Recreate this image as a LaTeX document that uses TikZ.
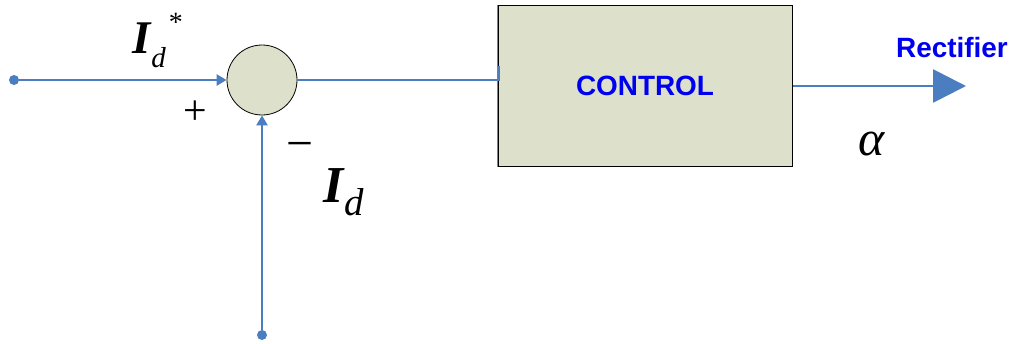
\documentclass[tikz,border=0pt]{standalone}
\usepackage{fontspec}
\setmainfont{Liberation Serif}
\setsansfont{Liberation Sans}
\usetikzlibrary{arrows.meta}
\definecolor{wire}{RGB}{74,126,193}
\definecolor{panel}{RGB}{221,224,203}
\definecolor{labelblue}{RGB}{0,0,240}
\begin{document}
\begin{tikzpicture}[x=1bp,y=-1bp,
  wire/.style={draw=wire,line width=2.8bp},
  tip/.style={-{Triangle[length=10bp,width=11bp]}},
  bigtip/.style={-{Triangle[length=33bp,width=33bp]}},
  terminal/.style={circle,fill=wire,inner sep=0,minimum size=10bp},
  lbl/.style={inner sep=0,anchor=base west},
  sym/.style={inner sep=0,anchor=base}]
\useasboundingbox (0,0) rectangle (1014,343);

% terminals, summing junction and controller block
\node[terminal] (in) at (14,80) {};
\node[terminal] (fb) at (262,335) {};
\node[circle,draw=black,line width=0.8bp,fill=panel,minimum size=70bp,inner sep=0] (sum) at (262,80) {};
\node[draw=black,line width=1bp,fill=panel,minimum width=294bp,minimum height=161bp,inner sep=0,
      font=\sffamily\bfseries\fontsize{28}{30}\selectfont,text=labelblue] (ctrl) at (645,85.5) {CONTROL};
\draw[gray,line width=1.2bp] (ctrl.north west) -- (ctrl.south west);

\coordinate (tick) at (499,66);
\coordinate (out) at (966,86);

% connectors
\draw[wire,tip] (in) -- (sum.west);
\draw[wire,tip] (fb) -- (sum.south);
\draw[wire] (sum.east) -| (tick);
\draw[wire,bigtip] (ctrl.east |- out) -- (out);

% labels
\node[lbl] (ref) at (132,53) {\fontsize{47}{47}\selectfont\bfseries\itshape I\kern1bp\raisebox{-14bp}{\mdseries\fontsize{29}{29}\selectfont d}\kern3bp\raisebox{22bp}{\upshape\mdseries\fontsize{28}{28}\selectfont *}};
\node[sym,font=\fontsize{42}{42}\selectfont] (plus) at (195,124) {+};
\node[sym,font=\fontsize{48}{48}\selectfont] (minus) at (300,159) {−};
\node[lbl] (meas) at (323,202) {\fontsize{52}{52}\selectfont\bfseries\itshape I\kern1bp\raisebox{-13bp}{\mdseries\fontsize{39}{39}\selectfont d}};
\node[lbl,font=\fontsize{50}{50}\selectfont\itshape] (alpha) at (858,155) {α};
\node[lbl,font=\sffamily\bfseries\fontsize{28}{30}\selectfont,text=labelblue] (rect) at (896,57) {Rectifier};
\end{tikzpicture}
\end{document}
